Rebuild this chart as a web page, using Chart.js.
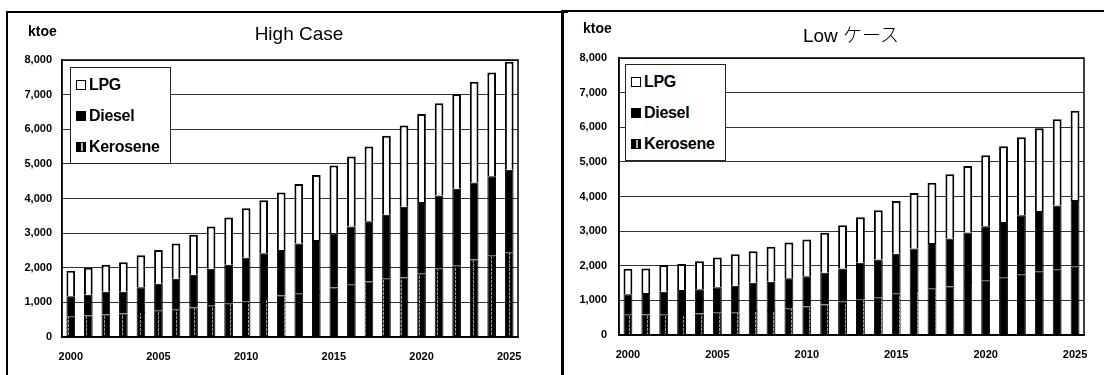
<!DOCTYPE html>
<html>
<head>
<meta charset="utf-8">
<script src="https://cdn.jsdelivr.net/npm/chart.js@4.4.1/dist/chart.umd.min.js"></script>
<style>
body { margin: 0; width: 1104px; height: 375px; overflow: hidden; background: #fff; position: relative;
       font-family: "Liberation Sans", Arial, "Noto Sans CJK JP", sans-serif; }
.panel { position: absolute; border: 2px solid #000; border-bottom: none; }
#p1 { left: 6px; top: 11px; width: 560px; height: 380px; border-right: none; }
#p2 { left: 561px; top: 10px; width: 560px; height: 380px; border-left-width: 3px; }
canvas { position: absolute; top: 0; }
.unit { position: absolute; font-weight: bold; font-size: 14px; line-height: 14px; }
.title { position: absolute; font-size: 19px; line-height: 19px; transform: translateX(-50%); white-space: nowrap; }
.title .jp { font-family: "Noto Sans CJK JP", sans-serif; font-weight: 300; }
.legend { position: absolute; border: 1px solid #222; background: #fff; width: 99px; height: 95px; }
.item { position: absolute; left: 5px; font-weight: bold; font-size: 16px; line-height: 16px; display: flex; align-items: center; letter-spacing: -0.3px; }
.sw { width: 8px; height: 8px; border: 1px solid #000; margin-right: 3px; }
</style>
</head>
<body>
<div class="panel" id="p1"></div>
<div class="panel" id="p2"></div>
<canvas id="high" width="552" height="375" style="left:0"></canvas>
<canvas id="low" width="552" height="375" style="left:552px"></canvas>
<div class="unit" style="left:28px;top:24px">ktoe</div>
<div class="unit" style="left:583px;top:21px">ktoe</div>
<div class="title" style="left:299px;top:24px">High Case</div>
<div class="title" style="left:851px;top:24px">Low <span class="jp">ケース</span></div>
<div class="legend" id="leg1" style="left:70px;top:67px"></div>
<div class="legend" id="leg2" style="left:625px;top:64px"></div>

<script>
const years = [2000, 2001, 2002, 2003, 2004, 2005, 2006, 2007, 2008, 2009, 2010, 2011, 2012,
               2013, 2014, 2015, 2016, 2017, 2018, 2019, 2020, 2021, 2022, 2023, 2024, 2025];

// High case (ktoe)
const highKerosene = [600, 620, 650, 680, 720, 760, 800, 850, 900, 960, 1030, 1100, 1200,
                      1260, 1330, 1430, 1520, 1600, 1700, 1720, 1830, 1970, 2060, 2240, 2350, 2450];
const highDiesel = [580, 600, 660, 630, 720, 780, 880, 950, 1070, 1130, 1260, 1320, 1310,
                    1440, 1470, 1570, 1670, 1740, 1830, 2040, 2070, 2120, 2220, 2220, 2290, 2380];
const highLpg = [730, 780, 780, 850, 920, 970, 1020, 1150, 1220, 1360, 1430, 1530, 1660,
                 1720, 1880, 1950, 2020, 2160, 2280, 2350, 2540, 2660, 2730, 2910, 3000, 3120];

// Low case (ktoe)
const lowKerosene = [600, 590, 600, 610, 620, 640, 660, 690, 720, 770, 820, 880, 960,
                     1030, 1090, 1190, 1300, 1350, 1400, 1500, 1570, 1670, 1740, 1830, 1900, 1970];
const lowDiesel = [580, 620, 650, 690, 700, 740, 760, 820, 820, 870, 880, 920, 960,
                   1060, 1090, 1160, 1200, 1310, 1390, 1460, 1570, 1590, 1720, 1750, 1840, 1930];
const lowLpg = [730, 710, 770, 750, 810, 860, 910, 910, 1010, 1030, 1060, 1150, 1250,
                1310, 1420, 1520, 1600, 1740, 1850, 1920, 2050, 2190, 2250, 2390, 2490, 2580];

const yMax = 8000;
const yStep = 1000;

Chart.defaults.font.family = '"Liberation Sans", Arial, sans-serif';
Chart.defaults.color = '#000';

function stripePattern() {
    const c = document.createElement('canvas');
    c.width = 9;
    c.height = 4;
    const g = c.getContext('2d');
    g.fillStyle = '#000';
    g.fillRect(0, 0, 9, 4);
    g.fillStyle = '#9a9a9a';
    g.fillRect(5, 0, 1, 3);
    return g.createPattern(c, 'repeat');
}

const frame = {
    id: 'frame',
    afterDraw(chart) {
        const a = chart.chartArea;
        const ctx = chart.ctx;
        ctx.save();
        ctx.strokeStyle = '#000';
        ctx.lineWidth = 1.5;
        ctx.strokeRect(a.left, a.top, a.right - a.left, a.bottom - a.top);
        ctx.restore();
    }
};

function makeChart(id, kerosene, diesel, lpg, pad, yWidth, xHeight, tickPad) {
    return new Chart(document.getElementById(id), {
        type: 'bar',
        data: {
            labels: years,
            datasets: [
                { label: 'Kerosene', data: kerosene, backgroundColor: stripePattern(), borderColor: '#000', borderWidth: 1 },
                { label: 'Diesel', data: diesel, backgroundColor: '#000', borderColor: '#000', borderWidth: 1 },
                { label: 'LPG', data: lpg, backgroundColor: '#fff', borderColor: '#000', borderWidth: 2 }
            ]
        },
        options: {
            responsive: false,
            animation: false,
            layout: { padding: pad },
            datasets: { bar: { categoryPercentage: 0.9, barPercentage: 0.55 } },
            plugins: { legend: { display: false }, title: { display: false }, tooltip: { enabled: false } },
            scales: {
                x: {
                    stacked: true,
                    grid: { display: false, drawTicks: false },
                    border: { color: '#000', width: 1.5 },
                    afterFit: s => { s.height = xHeight; },
                    ticks: {
                        autoSkip: false,
                        maxRotation: 0,
                        padding: 13,
                        font: { size: 11, weight: 'bold' },
                        callback: (v, i) => years[i] % 5 === 0 ? String(years[i]) : ''
                    }
                },
                y: {
                    stacked: true,
                    min: 0,
                    max: yMax,
                    grid: { color: '#333', lineWidth: 1, drawTicks: false },
                    border: { color: '#000', width: 1.5 },
                    afterFit: s => { s.width = yWidth; },
                    ticks: {
                        stepSize: yStep,
                        padding: tickPad,
                        font: { size: 11, weight: 'bold' },
                        callback: v => v.toLocaleString('en-US')
                    }
                }
            }
        },
        plugins: [frame]
    });
}

function buildLegend(chart, id) {
    const box = document.getElementById(id);
    const sets = chart.data.datasets.slice().reverse();
    sets.forEach((ds, i) => {
        const item = document.createElement('div');
        item.className = 'item';
        item.style.top = (9 + i * 31) + 'px';
        const sw = document.createElement('span');
        sw.className = 'sw';
        if (ds.label === 'Kerosene') {
            sw.style.background = 'linear-gradient(90deg,#000 55%,#bbb 55%,#bbb 70%,#000 70%)';
        } else {
            sw.style.background = ds.backgroundColor;
        }
        item.appendChild(sw);
        item.appendChild(document.createTextNode(ds.label));
        box.appendChild(item);
    });
}

const highChart = makeChart('high', highKerosene, highDiesel, highLpg,
    { left: 0, right: 34, top: 60, bottom: 0 }, 62, 38, 10);
const lowChart = makeChart('low', lowKerosene, lowDiesel, lowLpg,
    { left: 0, right: 20, top: 58, bottom: 0 }, 67, 40, 12);

buildLegend(highChart, 'leg1');
buildLegend(lowChart, 'leg2');
</script>
</body>
</html>
